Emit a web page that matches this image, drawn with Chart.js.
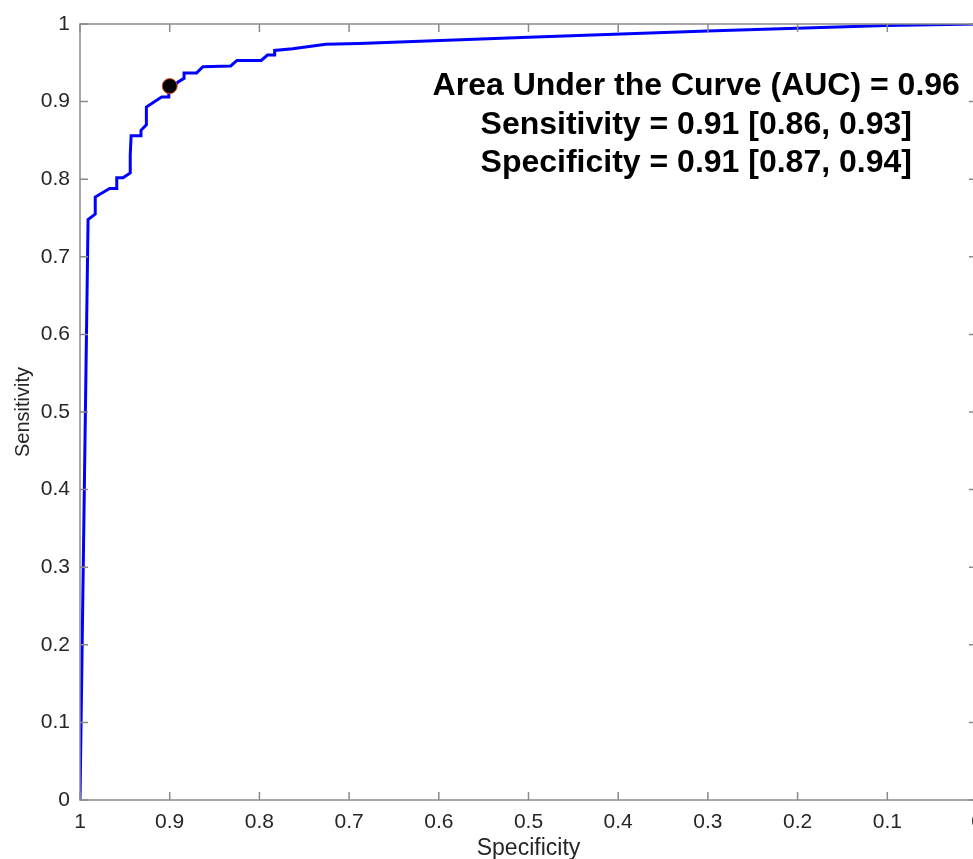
<!DOCTYPE html>
<html>
<head>
<meta charset="utf-8">
<script src="https://cdn.jsdelivr.net/npm/chart.js@4/dist/chart.umd.min.js"></script>
<style>
    html, body { margin: 0; padding: 0; background: #fff; overflow: hidden; }
    #wrap { width: 990px; height: 859px; position: relative; }
</style>
</head>
<body>
<div id="wrap"><canvas id="roc"></canvas></div>
<script>
// ROC curve: specificity (x, reversed axis) vs sensitivity (y)
const specificity = [1, 0.991, 0.983, 0.983, 0.967, 0.959, 0.959, 0.952, 0.944, 0.944, 0.943, 0.933, 0.932,
    0.926, 0.926, 0.909, 0.901, 0.901, 0.891, 0.884, 0.884, 0.870, 0.863, 0.832, 0.825, 0.798, 0.791,
    0.783, 0.783, 0.763, 0.726, 0.689, 0.500, 0.301, 0.101, 0];
const sensitivity = [0, 0.748, 0.755, 0.777, 0.788, 0.788, 0.802, 0.802, 0.808, 0.831, 0.856, 0.856, 0.863,
    0.870, 0.893, 0.906, 0.906, 0.911, 0.925, 0.930, 0.937, 0.937, 0.945, 0.946, 0.953, 0.953, 0.960,
    0.960, 0.966, 0.968, 0.974, 0.975, 0.983, 0.991, 0.998, 1];

// operating point
const opSpec = 0.90;
const opSens = 0.92;

const annotLines = [
    'Area Under the Curve (AUC) = 0.96',
    'Sensitivity = 0.91 [0.86, 0.93]',
    'Specificity = 0.91 [0.87, 0.94]'
];

const AXIS = '#8a8a8a';
const TXT = '#262626';
const FONT = "'Liberation Sans', Arial, sans-serif";

// MATLAB-style box with inward ticks + annotation text
const boxPlugin = {
    id: 'box',
    afterDatasetsDraw(chart) {
        const { ctx, chartArea: a, scales: { x, y } } = chart;
        const tl = 8;
        ctx.save();
        ctx.strokeStyle = AXIS;
        ctx.lineWidth = 1.5;
        ctx.strokeRect(a.left, a.top, a.right - a.left, a.bottom - a.top);
        ctx.beginPath();
        x.ticks.forEach(t => {
            const px = x.getPixelForValue(t.value);
            ctx.moveTo(px, a.bottom); ctx.lineTo(px, a.bottom - tl);
            ctx.moveTo(px, a.top); ctx.lineTo(px, a.top + tl);
        });
        y.ticks.forEach(t => {
            const py = y.getPixelForValue(t.value);
            ctx.moveTo(a.left, py); ctx.lineTo(a.left + tl, py);
            ctx.moveTo(a.right, py); ctx.lineTo(a.right - tl, py);
        });
        ctx.stroke();

        ctx.fillStyle = '#000';
        ctx.font = 'bold 32px ' + FONT;
        ctx.textAlign = 'center';
        ctx.textBaseline = 'alphabetic';
        const cx = x.getPixelForValue(0.313);
        annotLines.forEach((s, i) => ctx.fillText(s, cx, 95 + i * 38.5));
        ctx.restore();
    }
};

new Chart(document.getElementById('roc'), {
    type: 'line',
    data: {
        datasets: [
            {
                data: [{ x: opSpec, y: opSens }],
                showLine: false,
                pointRadius: 7.5,
                pointBackgroundColor: '#000',
                pointBorderColor: '#d95319',
                pointBorderWidth: 1,
                order: 0
            },
            {
                data: specificity.map((s, i) => ({ x: s, y: sensitivity[i] })),
                borderColor: '#0000ff',
                borderWidth: 3,
                pointRadius: 0,
                tension: 0,
                fill: false,
                order: 1
            }
        ]
    },
    options: {
        responsive: true,
        maintainAspectRatio: false,
        animation: false,
        layout: { padding: { top: 24, right: 13, left: 0, bottom: 0 } },
        plugins: { legend: { display: false }, tooltip: { enabled: false } },
        scales: {
            x: {
                type: 'linear', min: 0, max: 1, reverse: true,
                grid: { display: false, drawTicks: false },
                border: { display: false },
                ticks: {
                    stepSize: 0.1, padding: 10, color: TXT,
                    font: { family: FONT, size: 21 },
                    maxRotation: 0,
                    callback: v => String(+v.toFixed(1))
                },
                title: {
                    display: true, text: 'Specificity', color: TXT,
                    font: { family: FONT, size: 23 },
                    padding: { top: 0, bottom: -3 }
                },
                afterFit: s => { s.height = 59; s.paddingLeft = 0; s.paddingRight = 0; }
            },
            y: {
                type: 'linear', min: 0, max: 1,
                grid: { display: false, drawTicks: false },
                border: { display: false },
                ticks: {
                    stepSize: 0.1, padding: 10, color: TXT,
                    font: { family: FONT, size: 21 },
                    callback: v => String(+v.toFixed(1))
                },
                title: {
                    display: true, text: 'Sensitivity', color: TXT,
                    font: { family: FONT, size: 20 },
                    padding: { top: 11, bottom: 0 }
                },
                afterFit: s => { s.width = 80; s.paddingTop = 0; s.paddingBottom = 0; }
            }
        }
    },
    plugins: [boxPlugin]
});
</script>
</body>
</html>
